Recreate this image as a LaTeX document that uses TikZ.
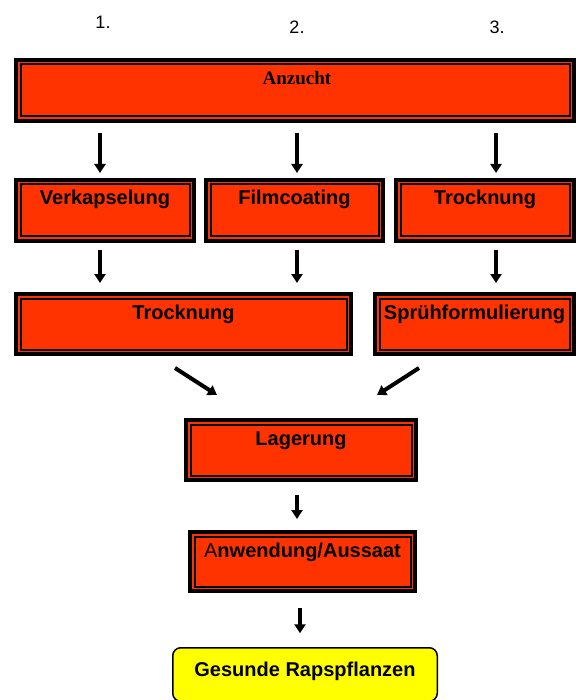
\documentclass[tikz,border=0pt]{standalone}
\usepackage{fontspec}
\setmainfont{Liberation Sans}
\newfontfamily\serifbold{Liberation Serif}
\usetikzlibrary{arrows.meta,calc}
\definecolor{boxorange}{RGB}{255,51,0}
\definecolor{boxyellow}{RGB}{255,255,0}
\begin{document}
\begin{tikzpicture}[x=1pt,y=-1pt,
  obox/.style={draw=black, line width=3.5pt, fill=boxorange, inner sep=0pt, outer sep=0pt},
  inline/.style={draw=black, line width=2pt},
  lbl/.style={font=\fontsize{20}{24}\selectfont\bfseries, anchor=base, yshift=-25pt, inner sep=0pt},
  arr/.style={line width=4pt, -{Triangle[width=11pt,length=9pt]}},
  num/.style={font=\fontsize{18}{22}\selectfont, anchor=base, inner sep=0pt}
]
\useasboundingbox (0,0) rectangle (575,700);

% column numbers
\node[num] (n1) at (103,29) {1.};
\node[num] (n2) at (297,34) {2.};
\node[num] (n3) at (497,34) {3.};

% boxes
\node[obox, minimum width=558pt, minimum height=61pt,
  label={[lbl, font=\fontsize{19}{23}\selectfont\serifbold\bfseries, xshift=2pt]north:Anzucht}] (anz) at (295,90.5) {};
\node[obox, minimum width=178pt, minimum height=61pt,
  label={[lbl]north:Verkapselung}] (v) at (105,210.5) {};
\node[obox, minimum width=177pt, minimum height=61pt,
  label={[lbl]north:Filmcoating}] (f) at (294.5,210.5) {};
\node[obox, minimum width=178pt, minimum height=61pt,
  label={[lbl]north:Trocknung}] (t1) at (485,210.5) {};
\node[obox, minimum width=335pt, minimum height=60pt,
  label={[lbl]north:Trocknung}] (t2) at (183.5,324) {};
\node[obox, minimum width=199pt, minimum height=60pt,
  label={[lbl]north:Sprühformulierung}] (s) at (474.5,324) {};
\node[obox, minimum width=230pt, minimum height=60pt,
  label={[lbl]north:Lagerung}] (lag) at (301,450) {};
\node[obox, minimum width=225pt, minimum height=59pt,
  label={[lbl]north:{{\mdseries A}nwendung/Aussaat}}] (anw) at (302.5,561.5) {};
\node[draw=black, line width=1.5pt, fill=boxyellow, rounded corners=8pt,
  minimum width=264.5pt, minimum height=53.5pt, inner sep=0pt, outer sep=0pt,
  label={[lbl, yshift=-4pt]north:Gesunde Rapspflanzen}] (ges) at (305,674.5) {};

% inner border lines
\foreach \n in {anz,v,f,t1,t2,s,lag,anw}
  \draw[inline] ($(\n.north west)+(4.5,4.5)$) rectangle ($(\n.south east)+(-4.5,-4.5)$);

% arrows row 1
\draw[arr, shorten <=12pt, shorten >=7pt] ([xshift=-5pt]v.north |- anz.south) -- ([xshift=-5pt]v.north);
\draw[arr, shorten <=12pt, shorten >=7pt] ([xshift=2.5pt]f.north |- anz.south) -- ([xshift=2.5pt]f.north);
\draw[arr, shorten <=12pt, shorten >=7pt] ([xshift=11pt]t1.north |- anz.south) -- ([xshift=11pt]t1.north);
% arrows row 2
\draw[arr, shorten <=9pt, shorten >=11pt] ([xshift=-5pt]v.south) -- ([xshift=-5pt]v.south |- t2.north);
\draw[arr, shorten <=9pt, shorten >=11pt] ([xshift=2.5pt]f.south) -- ([xshift=2.5pt]f.south |- t2.north);
\draw[arr, shorten <=9pt, shorten >=11pt] ([xshift=11pt]t1.south) -- ([xshift=11pt]t1.south |- s.north);
% diagonal arrows
\coordinate (dl1) at (175,368);
\coordinate (dl2) at (217,395);
\coordinate (dr1) at (419,368);
\coordinate (dr2) at (377,395);
\draw[arr] (dl1) -- (dl2);
\draw[arr] (dr1) -- (dr2);
% lower arrows
\draw[arr, shorten <=15pt, shorten >=13pt] ([xshift=-4pt]lag.south) -- ([xshift=-4pt]lag.south |- anw.north);
\draw[arr, shorten <=17pt, shorten >=14.5pt] ([xshift=-2.5pt]anw.south) -- ([xshift=-2.5pt]anw.south |- ges.north);
\end{tikzpicture}
\end{document}
